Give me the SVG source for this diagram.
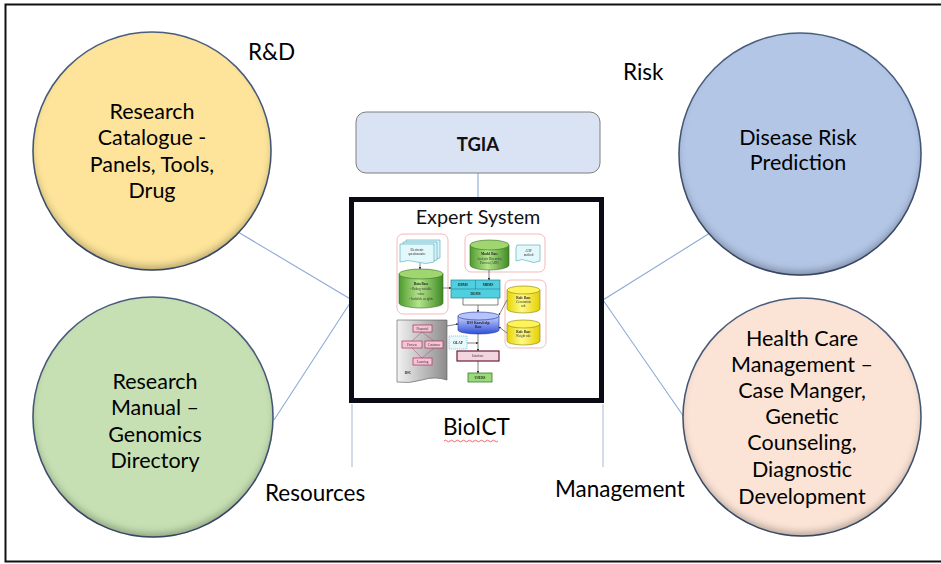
<svg xmlns="http://www.w3.org/2000/svg" width="941" height="564" viewBox="0 0 941 564">
  <style>
    .lbl { font-family: Lato, "Liberation Sans", sans-serif; font-size: 22.5px; fill: #000; }
    .ctext { font-family: Lato, "Liberation Sans", sans-serif; font-size: 21.5px; fill: #000; text-anchor: middle; }
    .bubble { stroke: #4b5f80; stroke-width: 1.5; filter: url(#inset); }
    .conn { stroke: #8eaad8; stroke-width: 1.1; fill: none; }
    .drop { stroke: #c8d2e4; stroke-width: 1.6; fill: none; }
    .mini { font-family: "Liberation Serif", serif; font-size: 3.2px; fill: #333; text-anchor: middle; }
    .mini-b { font-family: "Liberation Serif", serif; font-size: 3.4px; font-weight: bold; fill: #222; text-anchor: middle; }
    .panel { fill: #fff; stroke: #f0a9a9; stroke-width: 0.8; }
    .arr { stroke: #333; stroke-width: 0.6; fill: none; marker-end: url(#tip); }
    .pink { fill: #f6c4d5; stroke: #a8325f; stroke-width: 0.7; }
  </style>
  <defs>
    <!-- soft inner shadow along the lower rim of the circles -->
    <filter id="inset" x="-5%" y="-5%" width="110%" height="110%">
      <feComponentTransfer in="SourceAlpha" result="inv">
        <feFuncA type="table" tableValues="1 0"/>
      </feComponentTransfer>
      <feGaussianBlur in="inv" stdDeviation="3.5" result="blur"/>
      <feOffset in="blur" dy="-5" result="off"/>
      <feFlood flood-color="#000" flood-opacity="0.5"/>
      <feComposite in2="off" operator="in" result="shadow"/>
      <feComposite in="shadow" in2="SourceAlpha" operator="in" result="inner"/>
      <feMerge>
        <feMergeNode in="SourceGraphic"/>
        <feMergeNode in="inner"/>
      </feMerge>
    </filter>
    <filter id="soft" x="-5%" y="-5%" width="110%" height="110%">
      <feGaussianBlur stdDeviation="0.35"/>
    </filter>
    <marker id="tip" viewBox="0 0 6 6" refX="5" refY="3" markerWidth="4" markerHeight="4" orient="auto">
      <path d="M0,0 L6,3 L0,6 z" fill="#333"/>
    </marker>
    <linearGradient id="gGreen" x1="0" x2="1" y1="0" y2="0">
      <stop offset="0" stop-color="#4f9a2e"/>
      <stop offset="0.45" stop-color="#b4e58a"/>
      <stop offset="1" stop-color="#3f8a25"/>
    </linearGradient>
    <linearGradient id="gYellow" x1="0" x2="1" y1="0" y2="0">
      <stop offset="0" stop-color="#e6d400"/>
      <stop offset="0.45" stop-color="#fff98a"/>
      <stop offset="1" stop-color="#e3cf00"/>
    </linearGradient>
    <linearGradient id="gBlue" x1="0" x2="0" y1="0" y2="1">
      <stop offset="0" stop-color="#c9d4ff"/>
      <stop offset="1" stop-color="#2f4fd8"/>
    </linearGradient>
    <linearGradient id="gGray" x1="0" x2="1" y1="0" y2="0">
      <stop offset="0" stop-color="#f2f2f2"/>
      <stop offset="1" stop-color="#8c8c8c"/>
    </linearGradient>
  </defs>

  <rect x="0" y="0" width="941" height="564" fill="#fff"/>
  <!-- outer frame -->
  <path d="M945,4.5 H5.5 V561.5 H945" fill="none" stroke="#111" stroke-width="2"/>

  <!-- connectors -->
  <g id="connectors">
    <line class="conn" x1="478" y1="173" x2="478" y2="197"/>
    <polyline class="conn" points="238,232 352,300 274,420"/>
    <polyline class="conn" points="710,233 603,300 684,417"/>
    <line class="drop" x1="352" y1="404" x2="352" y2="467"/>
    <line class="drop" x1="603" y1="404" x2="603" y2="467"/>
  </g>

  <g id="node-rnd">
    <circle class="bubble" cx="152" cy="151" r="119" fill="#fde49a"/>
    <text class="ctext" x="152" y="119">Research</text>
    <text class="ctext" x="152" y="145">Catalogue -</text>
    <text class="ctext" x="152" y="172">Panels, Tools,</text>
    <text class="ctext" x="152" y="198">Drug</text>
  </g>

  <g id="node-resources">
    <circle class="bubble" cx="153" cy="417" r="120" fill="#c6e0b3"/>
    <text class="ctext" x="155" y="389">Research</text>
    <text class="ctext" x="155" y="415">Manual –</text>
    <text class="ctext" x="155" y="442">Genomics</text>
    <text class="ctext" x="155" y="468">Directory</text>
  </g>

  <g id="node-risk">
    <circle class="bubble" cx="800" cy="154" r="121" fill="#b3c6e6"/>
    <text class="ctext" x="798" y="145">Disease Risk</text>
    <text class="ctext" x="798" y="170">Prediction</text>
  </g>

  <g id="node-management">
    <circle class="bubble" cx="802" cy="417" r="119" fill="#fbe4d6"/>
    <text class="ctext" x="802" y="346">Health Care</text>
    <text class="ctext" x="802" y="372">Management –</text>
    <text class="ctext" x="802" y="398">Case Manger,</text>
    <text class="ctext" x="802" y="424">Genetic</text>
    <text class="ctext" x="802" y="450">Counseling,</text>
    <text class="ctext" x="802" y="477">Diagnostic</text>
    <text class="ctext" x="802" y="504">Development</text>
  </g>

  <g id="node-tgia">
    <rect x="356" y="112" width="244" height="61" rx="10" fill="#dae3f3" stroke="#7f7f7f" stroke-width="1"/>
    <text x="478" y="151" text-anchor="middle" font-family="Lato, 'Liberation Sans', sans-serif" font-size="18.5" font-weight="bold" fill="#111">TGIA</text>
  </g>

  <g id="node-expert-system">
    <rect x="351.5" y="199.5" width="250" height="201" fill="#fff" stroke="#0b0b16" stroke-width="5"/>
    <text x="478" y="224" text-anchor="middle" font-family="Lato, 'Liberation Sans', sans-serif" font-size="19.8" fill="#111">Expert System</text>

    <!-- decision support architecture sketch -->
    <g id="dss-figure" filter="url(#soft)">
      <!-- grouping panels -->
      <rect class="panel" x="397" y="234" width="51" height="80" rx="6"/>
      <rect class="panel" x="465" y="234" width="80" height="38" rx="6"/>
      <rect class="panel" x="505" y="280" width="41" height="68" rx="6"/>

      <!-- stacked questionnaire sheets -->
      <path d="M406,240 h34 v18 q-8,3 -17,0 t-17,0 z" fill="#d9f4f8" stroke="#4aa6b5" stroke-width="0.6"/>
      <path d="M403,242 h34 v18 q-8,3 -17,0 t-17,0 z" fill="#d9f4f8" stroke="#4aa6b5" stroke-width="0.6"/>
      <path d="M400,244 h34 v18 q-8,3 -17,0 t-17,0 z" fill="#e3f8fb" stroke="#4aa6b5" stroke-width="0.6"/>
      <text class="mini" x="417" y="251">Electronic</text>
      <text class="mini" x="417" y="255">questionnaire</text>

      <!-- data base cylinder -->
      <path d="M399,274 v29 a22,5 0 0 0 44,0 v-29" fill="url(#gGreen)" stroke="#356e22" stroke-width="0.6"/>
      <ellipse cx="421" cy="274" rx="22" ry="5" fill="#9fd66f" stroke="#356e22" stroke-width="0.6"/>
      <text class="mini-b" x="421" y="285">Data Base</text>
      <text class="mini" x="421" y="290">- Rating variable</text>
      <text class="mini" x="421" y="295">value</text>
      <text class="mini" x="421" y="300">- Invisible weights</text>

      <!-- model base cylinder -->
      <path d="M470,245 v20 a19.5,5 0 0 0 39,0 v-20" fill="url(#gGreen)" stroke="#356e22" stroke-width="0.6"/>
      <ellipse cx="489.5" cy="245" rx="19.5" ry="5" fill="#9fd66f" stroke="#356e22" stroke-width="0.6"/>
      <text class="mini-b" x="489.5" y="255">Model Base</text>
      <text class="mini" x="489.5" y="259.5">Analytic Hierarchy</text>
      <text class="mini" x="489.5" y="264">Process (AHP)</text>

      <!-- AHP method sheet -->
      <path d="M517,245 h23 v16 q-6,3 -12,0 t-12,0 v-13 z" fill="#e3f8fb" stroke="#4aa6b5" stroke-width="0.6"/>
      <text class="mini" x="528.5" y="252">AHP</text>
      <text class="mini" x="528.5" y="256">method</text>

      <!-- DBMS / MBMS / DGMS block -->
      <rect x="451" y="280" width="49" height="18" fill="#4fd0e0" stroke="#23808f" stroke-width="0.7"/>
      <line x1="451" y1="289" x2="500" y2="289" stroke="#23808f" stroke-width="0.6"/>
      <line x1="475.5" y1="280" x2="475.5" y2="289" stroke="#23808f" stroke-width="0.6"/>
      <text class="mini-b" x="463" y="286">DBMS</text>
      <text class="mini-b" x="488" y="286">MBMS</text>
      <text class="mini-b" x="475.5" y="295">DGMS</text>

      <!-- rule base cylinders -->
      <path d="M507,290 v19 a16.5,4 0 0 0 33,0 v-19" fill="url(#gYellow)" stroke="#8a7d00" stroke-width="0.6"/>
      <ellipse cx="523.5" cy="290" rx="16.5" ry="4" fill="#fff35a" stroke="#8a7d00" stroke-width="0.6"/>
      <text class="mini-b" x="523.5" y="299">Rule Base</text>
      <text class="mini" x="523.5" y="303">Constraints</text>
      <text class="mini" x="523.5" y="307">rule</text>
      <path d="M507,324 v17 a16.5,4 0 0 0 33,0 v-17" fill="url(#gYellow)" stroke="#8a7d00" stroke-width="0.6"/>
      <ellipse cx="523.5" cy="324" rx="16.5" ry="4" fill="#fff35a" stroke="#8a7d00" stroke-width="0.6"/>
      <text class="mini-b" x="523.5" y="333">Rule Base</text>
      <text class="mini" x="523.5" y="337">Weight rule</text>

      <!-- knowledge base cylinder -->
      <path d="M458,316 v14 a20.5,4 0 0 0 41,0 v-14" fill="url(#gBlue)" stroke="#1e2f8a" stroke-width="0.6"/>
      <ellipse cx="478.5" cy="316" rx="20.5" ry="4" fill="#b5c4ff" stroke="#1e2f8a" stroke-width="0.6"/>
      <text class="mini-b" x="478.5" y="324">DSS Knowledge</text>
      <text class="mini-b" x="478.5" y="328">Base</text>

      <!-- balanced scorecard sheet -->
      <path d="M397,320 h50 v60 q-12,-4 -25,0 t-25,2 z" fill="url(#gGray)" stroke="#555" stroke-width="0.6"/>
      <line x1="422" y1="332" x2="412" y2="341" stroke="#b04a74" stroke-width="0.5"/>
      <line x1="422" y1="332" x2="434" y2="341" stroke="#b04a74" stroke-width="0.5"/>
      <line x1="412" y1="348" x2="422" y2="358" stroke="#b04a74" stroke-width="0.5"/>
      <line x1="434" y1="348" x2="422" y2="358" stroke="#b04a74" stroke-width="0.5"/>
      <rect class="pink" x="413" y="325" width="19" height="7"/>
      <rect class="pink" x="402" y="341" width="20" height="7"/>
      <rect class="pink" x="425" y="341" width="18" height="7"/>
      <rect class="pink" x="413" y="358" width="19" height="7"/>
      <text class="mini" x="422.5" y="329.8">Financial</text>
      <text class="mini" x="412" y="345.8">Process</text>
      <text class="mini" x="434" y="345.8">Customer</text>
      <text class="mini" x="422.5" y="362.8">Learning</text>
      <text class="mini-b" x="408" y="374">BSC</text>

      <!-- OLAP, interface, users -->
      <rect x="449" y="336" width="18" height="13" fill="#e8f8fb" stroke="#4fb6c6" stroke-width="0.6" stroke-dasharray="1.2,0.8"/>
      <text class="mini-b" x="458" y="344">OLAP</text>
      <rect x="457" y="351" width="42" height="10" fill="#f2d5df" stroke="#6b1e3a" stroke-width="1.2"/>
      <text class="mini" x="478" y="357.3">Interface</text>
      <rect x="468" y="373" width="24" height="9" fill="#98db78" stroke="#3a7a2a" stroke-width="0.8"/>
      <text class="mini-b" x="480" y="379">USERS</text>

      <!-- flows -->
      <line class="arr" x1="420" y1="263" x2="420" y2="269"/>
      <line class="arr" x1="443" y1="288" x2="451" y2="288"/>
      <line class="arr" x1="489" y1="270" x2="489" y2="280"/>
      <polyline points="463,298 463,305 498,305 498,298" fill="none" stroke="#333" stroke-width="0.6"/>
      <line class="arr" x1="478" y1="305" x2="478" y2="312"/>
      <line class="arr" x1="507" y1="300" x2="499" y2="315"/>
      <line class="arr" x1="507" y1="333" x2="499" y2="327"/>
      <line class="arr" x1="447" y1="326" x2="458" y2="324"/>
      <line class="arr" x1="467" y1="343" x2="478" y2="343"/>
      <line class="arr" x1="478" y1="334" x2="478" y2="351"/>
      <line class="arr" x1="478" y1="361" x2="478" y2="373"/>
    </g>
  </g>

  <!-- section labels -->
  <g id="labels">
    <text class="lbl" x="248" y="60">R&amp;D</text>
    <text class="lbl" x="623" y="80">Risk</text>
    <text class="lbl" x="265" y="501">Resources</text>
    <text class="lbl" x="555" y="497">Management</text>
    <text class="lbl" x="443" y="435">BioICT</text>
    <path d="M444,441 q1.5,-1.6 3,0 t3,0 t3,0 t3,0 t3,0 t3,0 t3,0 t3,0 t3,0 t3,0 t3,0 t3,0 t3,0 t3,0 t3,0 t3,0 t3,0 t3,0" fill="none" stroke="#e04848" stroke-width="0.8"/>
  </g>
</svg>
